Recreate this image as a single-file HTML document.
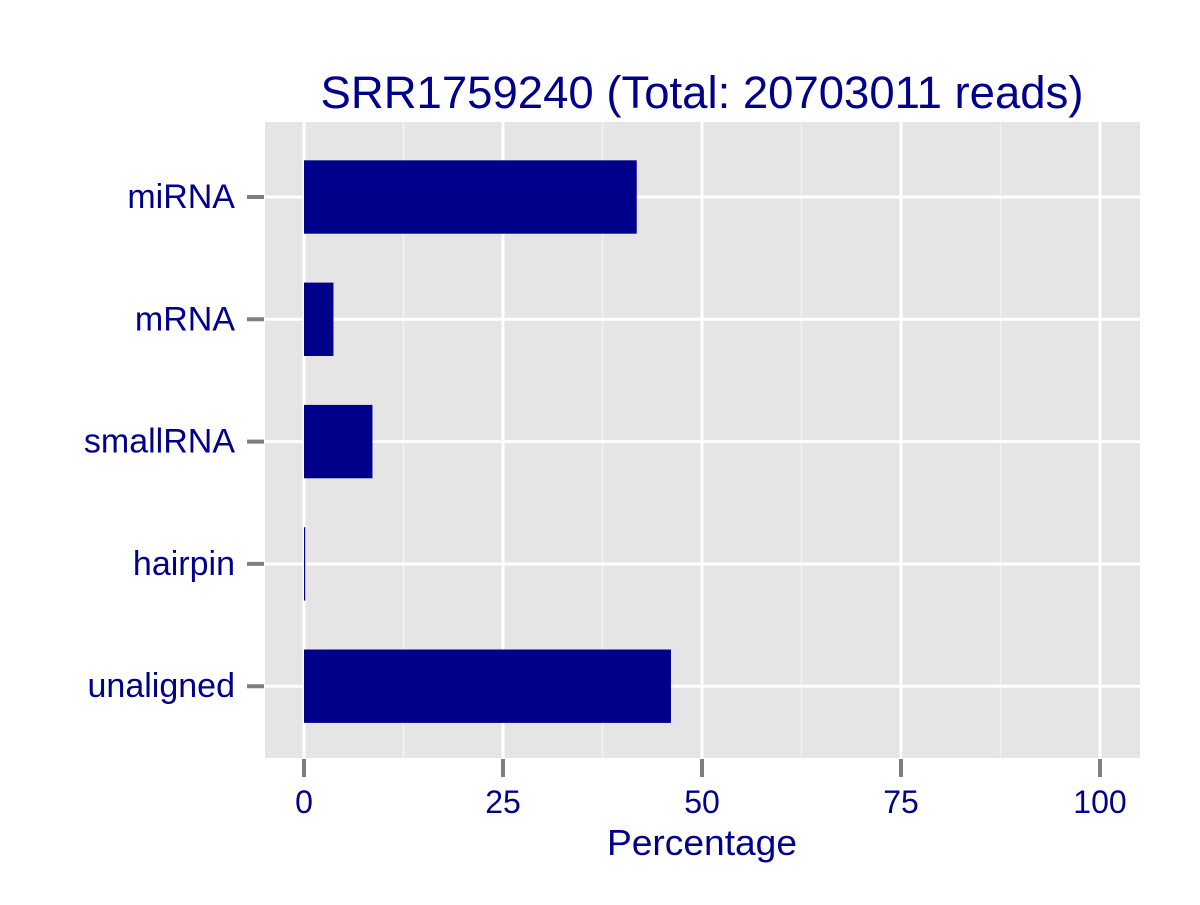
<!DOCTYPE html>
<html><head><meta charset="utf-8"><style>
body{margin:0;background:#fff;}
svg text{font-family:"Liberation Sans",sans-serif;fill:#00008b;}
</style></head><body>
<svg width="1200" height="900">
<rect x="0" y="0" width="1200" height="900" fill="#fff"/>
<text x="702" y="108" font-size="45" text-anchor="middle" textLength="763" lengthAdjust="spacingAndGlyphs">SRR1759240 (Total: 20703011 reads)</text>
<rect x="265" y="122" width="875" height="636" fill="#e5e5e5"/>
<g id="grid"></g>
<g id="bars"></g>
<g id="axes"></g>
<text x="702" y="855" font-size="36" text-anchor="middle" textLength="190" lengthAdjust="spacingAndGlyphs">Percentage</text>
</svg>
<script>
const categories=["miRNA","mRNA","smallRNA","hairpin","unaligned"];
const values=[41.8,3.7,8.6,0.15,46.1];
const xTicks=[0,25,50,75,100];
const NS="http://www.w3.org/2000/svg";
const px0=265,px1=1140,py0=122,py1=758;
const x=v=>304+v*7.96;
const band=122.3;
const y=i=>197+i*band;
function mk(t,a,p){const e=document.createElementNS(NS,t);for(const k in a)e.setAttribute(k,a[k]);p.appendChild(e);return e;}
const grid=document.getElementById('grid'),bars=document.getElementById('bars'),axes=document.getElementById('axes');
for(let i=0;i<xTicks.length-1;i++){const m=(xTicks[i]+xTicks[i+1])/2;
const l=mk('line',{x1:x(m),x2:x(m),y1:py0,y2:py1,stroke:'#f2f2f2','stroke-width':1.5},grid);

}
xTicks.forEach(t=>{const l=mk('line',{x1:x(t),x2:x(t),y1:py0,y2:py1,stroke:'#fff','stroke-width':3},grid);


const tk=mk('line',{x1:x(t),x2:x(t),y1:759,y2:777,stroke:'#7f7f7f','stroke-width':4},axes);


const tx=mk('text',{x:x(t),y:813,'font-size':32,'text-anchor':'middle'},axes);tx.textContent=t;

});
categories.forEach((c,i)=>{const l=mk('line',{x1:px0,x2:px1,y1:y(i),y2:y(i),stroke:'#fff','stroke-width':3},grid);


const h=band*0.6;
const r=mk('rect',{x:x(0),y:y(i)-h/2,width:Math.max(1,x(values[i])-x(0)),height:h,fill:'#00008b'},bars);


const tk=mk('line',{x1:247,x2:264,y1:y(i),y2:y(i),stroke:'#7f7f7f','stroke-width':4},axes);


const tx=mk('text',{x:235,y:y(i)+11,'font-size':34,'text-anchor':'end'},axes);tx.textContent=c;

});
</script>
</body></html>
